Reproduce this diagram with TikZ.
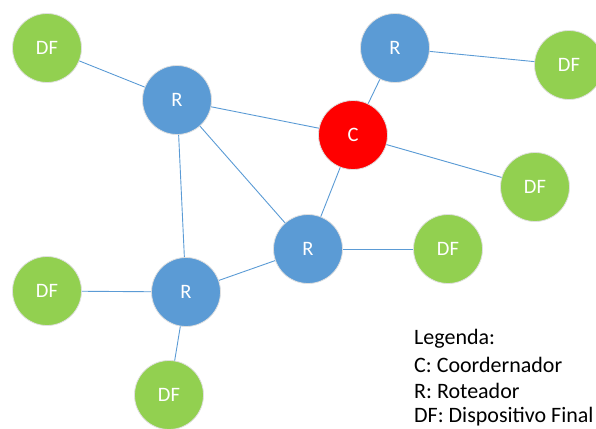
\documentclass[tikz,border=0pt]{standalone}
\usepackage{fontspec}
\setmainfont{Carlito}
\begin{document}
\begin{tikzpicture}[x=1pt,y=-1pt,
  dev/.style={circle,minimum size=69pt,inner sep=0pt,text=white,font=\fontsize{20.5}{22}\selectfont,draw=black!12,line width=0.8pt},
  router/.style={dev,fill=rblue},
  final/.style={dev,fill=dgreen},
  coord/.style={dev,fill=cred},
  link/.style={draw=rblue,line width=0.9pt},
  legend/.style={anchor=west,font=\fontsize{22}{24}\selectfont,inner sep=0pt}]
\definecolor{rblue}{HTML}{5B9BD5}
\definecolor{dgreen}{HTML}{92D050}
\definecolor{cred}{HTML}{FF0000}
\useasboundingbox (0,0) rectangle (596,428);
\begin{scope}
\clip (0,0) rectangle (596,428);
% network nodes
\node[final]  (df1) at (47,48)   {DF};
\node[router] (r1)  at (177,100) {R};
\node[router] (r2)  at (395,48)  {R};
\node[final]  (df2) at (569,65)  {DF};
\node[coord]  (c)   at (353,135) {C};
\node[final]  (df3) at (535,187) {DF};
\node[router] (r3)  at (308,249) {R};
\node[final]  (df4) at (448,249) {DF};
\node[router] (r4)  at (186,292) {R};
\node[final]  (df5) at (47,291)  {DF};
\node[final]  (df6) at (169,395) {DF};
% links
\path[link] (df1) -- (r1);
\path[link] (r1) -- (c);
\path[link] (r1) -- (r3);
\path[link] (r1) -- (r4);
\path[link] (c) -- (r2);
\path[link] (r2) -- (df2);
\path[link] (c) -- (df3);
\path[link] (c) -- (r3);
\path[link] (r3) -- (df4);
\path[link] (r3) -- (r4);
\path[link] (r4) -- (df5);
\path[link] (r4) -- (df6);
\end{scope}
% legend
\node[legend] (l1) at (414,339) {Legenda:};
\node[legend] (l2) at (414,365) {C: Coordernador};
\node[legend] (l3) at (414,391) {R: Roteador};
\node[legend] (l4) at (414,417) {DF: Dispositivo Final};
\end{tikzpicture}
\end{document}
